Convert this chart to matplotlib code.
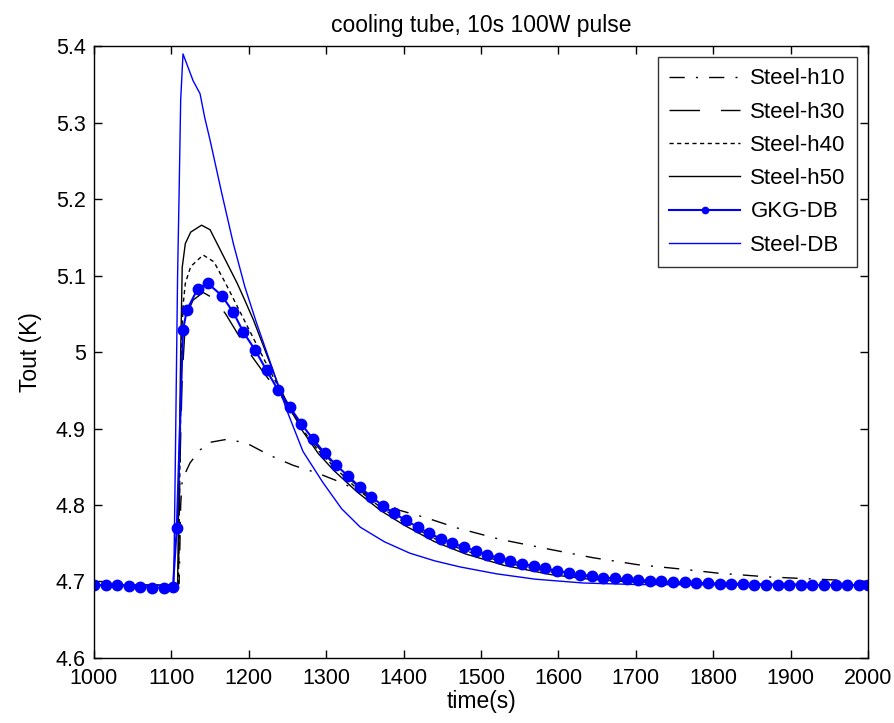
import matplotlib
matplotlib.use("Agg")
import matplotlib.pyplot as plt

plt.rcParams['font.family'] = ['Liberation Sans', 'DejaVu Sans']

# ---- data ----
t_h10 = [1000, 1100, 1110, 1112, 1114, 1124, 1137, 1150, 1172, 1197, 1227, 1257, 1288, 1313,
         1350, 1395, 1430, 1469, 1525, 1589, 1645, 1702, 1761, 1805, 1870, 1934, 2000]
y_h10 = [4.695, 4.695, 4.697, 4.80, 4.833, 4.855, 4.872, 4.882, 4.886, 4.881, 4.865, 4.852, 4.842, 4.832,
         4.815, 4.793, 4.783, 4.770, 4.755, 4.742, 4.731, 4.722, 4.716, 4.711, 4.706, 4.703, 4.700]

t_h30 = [1000, 1100, 1109, 1111, 1114, 1117, 1120, 1128, 1141, 1155, 1170, 1185, 1200, 1220, 1238,
         1255, 1270, 1290, 1310, 1340, 1370, 1400, 1440, 1480, 1530, 1590, 1640, 1700, 1800, 2000]
y_h30 = [4.695, 4.695, 4.697, 4.85, 4.97, 5.02, 5.05, 5.068, 5.078, 5.070, 5.050, 5.025, 5.000, 4.972, 4.948,
         4.922, 4.900, 4.875, 4.853, 4.825, 4.801, 4.781, 4.759, 4.743, 4.728, 4.714, 4.706, 4.701, 4.697, 4.695]

t_h40 = [1000, 1100, 1109, 1111, 1113, 1115, 1118, 1125, 1141, 1155, 1170, 1185, 1200, 1220, 1238,
         1255, 1270, 1290, 1310, 1340, 1370, 1400, 1440, 1480, 1530, 1590, 1640, 1700, 1800, 2000]
y_h40 = [4.695, 4.695, 4.697, 4.85, 5.00, 5.06, 5.09, 5.112, 5.127, 5.118, 5.090, 5.060, 5.030, 4.990, 4.955,
         4.924, 4.898, 4.871, 4.850, 4.821, 4.797, 4.778, 4.756, 4.740, 4.725, 4.712, 4.705, 4.700, 4.697, 4.695]

t_h50 = [1000, 1100, 1108, 1110, 1112, 1114, 1118, 1125, 1139, 1150, 1160, 1172, 1185, 1193, 1206, 1220,
         1238, 1255, 1270, 1290, 1310, 1340, 1370, 1400, 1440, 1480, 1530, 1590, 1640, 1700, 1800, 2000]
y_h50 = [4.695, 4.695, 4.697, 4.85, 5.00, 5.111, 5.142, 5.157, 5.166, 5.160, 5.140, 5.116, 5.090, 5.072, 5.042, 5.005,
         4.957, 4.923, 4.896, 4.867, 4.845, 4.817, 4.793, 4.774, 4.752, 4.736, 4.721, 4.709, 4.703, 4.699, 4.696, 4.695]

t_gkg = [1000, 1015, 1030, 1045, 1060, 1075, 1090, 1102, 1107, 1115, 1120, 1134, 1147, 1165, 1180, 1193,
         1208, 1223, 1238, 1253, 1268, 1283, 1298, 1313, 1328, 1343, 1358, 1373, 1388, 1403, 1418, 1433,
         1448, 1463, 1478, 1493, 1508, 1523, 1538, 1553, 1568, 1583, 1598, 1613, 1628, 1643, 1658, 1673,
         1688, 1703, 1718, 1733, 1748, 1763, 1778, 1793, 1808, 1823, 1838, 1853, 1868, 1883, 1898, 1913,
         1928, 1943, 1958, 1973, 1988, 2000]
y_gkg = [4.695, 4.695, 4.695, 4.694, 4.693, 4.692, 4.692, 4.693, 4.770, 5.029, 5.055, 5.083, 5.090, 5.074, 5.052, 5.026,
         5.003, 4.976, 4.950, 4.928, 4.906, 4.886, 4.868, 4.852, 4.838, 4.824, 4.811, 4.799, 4.789, 4.780, 4.771, 4.763,
         4.756, 4.750, 4.745, 4.740, 4.735, 4.731, 4.727, 4.723, 4.720, 4.717, 4.714, 4.711, 4.709, 4.707, 4.705, 4.704,
         4.703, 4.702, 4.701, 4.700, 4.699, 4.699, 4.698, 4.698, 4.697, 4.697, 4.697, 4.696, 4.696, 4.696, 4.696, 4.696,
         4.695, 4.695, 4.695, 4.695, 4.695, 4.695]

t_sdb = [1000, 1103, 1105, 1108, 1110, 1112, 1115, 1128, 1137, 1143, 1150, 1165, 1180, 1195, 1210,
         1230, 1249, 1270, 1296, 1320, 1344, 1375, 1408, 1440, 1473, 1520, 1570, 1632, 1700, 2000]
y_sdb = [4.695, 4.695, 4.85, 5.10, 5.21, 5.33, 5.39, 5.355, 5.338, 5.307, 5.277, 5.208, 5.142, 5.085, 5.038,
         4.980, 4.924, 4.870, 4.829, 4.795, 4.771, 4.752, 4.737, 4.727, 4.719, 4.710, 4.703, 4.698, 4.696, 4.695]

labels = ['Steel-h10', 'Steel-h30', 'Steel-h40', 'Steel-h50', 'GKG-DB', 'Steel-DB']
xticks = [1000, 1100, 1200, 1300, 1400, 1500, 1600, 1700, 1800, 1900, 2000]
yticks = [4.6, 4.7, 4.8, 4.9, 5.0, 5.1, 5.2, 5.3, 5.4]
ytick_labels = ['4.6', '4.7', '4.8', '4.9', '5', '5.1', '5.2', '5.3', '5.4']

fig = plt.figure(figsize=(8.95, 7.23), dpi=100)
ax = fig.add_axes([0.105, 0.090, 0.865, 0.846])

ax.plot(t_h10, y_h10, color='black', lw=1.0, dashes=(11, 8, 1.5, 8), label=labels[0])
ax.plot(t_h30, y_h30, color='black', lw=1.0, dashes=(22, 15), label=labels[1])
ax.plot(t_h40, y_h40, color='black', lw=1.0, dashes=(3, 2.5), label=labels[2])
ax.plot(t_h50, y_h50, color='black', lw=1.0, label=labels[3])
ax.plot(t_gkg, y_gkg, color='#0000ff', lw=1.5, marker='o', ms=7.5, mec='#0000ff', mfc='#0000ff', label=labels[4])
ax.plot(t_sdb, y_sdb, color='#0000ff', lw=1.0, label=labels[5])

ax.set_xlim(1000, 2000)
ax.set_ylim(4.6, 5.4)
ax.set_xticks(xticks)
ax.set_yticks(yticks)
ax.set_yticklabels(ytick_labels)
ax.tick_params(direction='in', top=True, right=True, labelsize=15.5, length=6, width=1)
ax.tick_params(axis='y', pad=6)
ax.tick_params(axis='x', pad=7)
for s in ax.spines.values():
    s.set_linewidth(1.0)

ax.set_title('cooling tube, 10s 100W pulse', fontsize=16.5, pad=10)
ax.set_xlabel('time(s)', fontsize=16.5, labelpad=1)
ax.set_ylabel('Tout (K)', fontsize=16.5, labelpad=10)

leg = ax.legend(loc='upper right', fontsize=16, frameon=True, fancybox=False, edgecolor='black',
                handlelength=3.2, handletextpad=0.45, borderpad=0.5, labelspacing=0.55,
                borderaxespad=0.5, markerscale=0.6)
leg.get_frame().set_linewidth(1.0)

fig.savefig('out.png', dpi=100, facecolor='white')
